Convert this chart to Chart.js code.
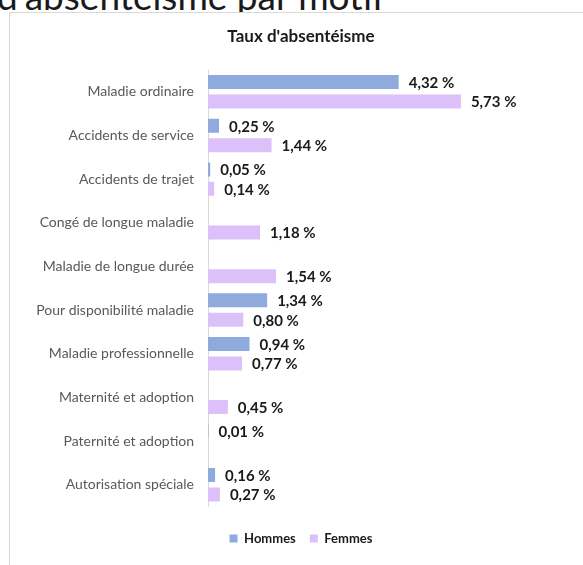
<!DOCTYPE html>
<html lang="fr">
<head>
<meta charset="utf-8">
<script src="https://cdn.jsdelivr.net/npm/chart.js@4"></script>
<style>
  html, body { margin: 0; padding: 0; background: #fff; overflow: hidden; }
  body { width: 583px; height: 565px; position: relative; font-family: Lato, sans-serif; }
  .heading { position: absolute; left: -3px; top: -23px; font-size: 37px; line-height: 37px; color: #1a1a1a; white-space: nowrap; }
  .frame { position: absolute; left: 9px; top: 12px; width: 600px; height: 600px; border-left: 1px solid #d9d9d9; border-top: 1px solid #d9d9d9; background: #fff; }
  .wrap { position: absolute; left: 10px; top: 13px; width: 582px; height: 552px; }
</style>
</head>
<body>
<div class="heading">d'absentéisme par motif</div>
<div class="frame"></div>
<div class="wrap"><canvas id="absChart"></canvas></div>
<script>
const motifs = [
  'Maladie ordinaire',
  'Accidents de service',
  'Accidents de trajet',
  'Congé de longue maladie',
  'Maladie de longue durée',
  'Pour disponibilité maladie',
  'Maladie professionnelle',
  'Maternité et adoption',
  'Paternité et adoption',
  'Autorisation spéciale'
];
const hommes = [4.32, 0.25, 0.05, null, null, 1.34, 0.94, null, 0.01, 0.16];
const femmes = [5.73, 1.44, 0.14, 1.18, 1.54, 0.80, 0.77, 0.45, null, 0.27];

function fmt(v) {
  return v.toFixed(2).replace('.', ',') + ' %';
}

// draws the value next to each bar end
const valueLabels = {
  id: 'valueLabels',
  afterDatasetsDraw(chart) {
    const ctx = chart.ctx;
    ctx.save();
    ctx.font = 'bold 15px Lato';
    ctx.fillStyle = '#1a1a1a';
    ctx.textAlign = 'left';
    ctx.textBaseline = 'middle';
    chart.data.datasets.forEach((ds, i) => {
      const meta = chart.getDatasetMeta(i);
      meta.data.forEach((bar, j) => {
        const v = ds.data[j];
        if (v === null || v === undefined) return;
        ctx.fillText(fmt(v), bar.x + 10, bar.y + 1);
      });
    });
    ctx.restore();
  }
};

new Chart(document.getElementById('absChart'), {
  type: 'bar',
  data: {
    labels: motifs,
    datasets: [
      {
        label: 'Hommes',
        data: hommes,
        backgroundColor: '#8faadc',
        categoryPercentage: 0.89,
        barPercentage: 0.72
      },
      {
        label: 'Femmes',
        data: femmes,
        backgroundColor: '#dcc0fa',
        categoryPercentage: 0.89,
        barPercentage: 0.72
      }
    ]
  },
  options: {
    indexAxis: 'y',
    responsive: true,
    maintainAspectRatio: false,
    animation: false,
    layout: {
      padding: { left: 0, right: 0, top: 0, bottom: 10 }
    },
    scales: {
      x: {
        display: true,
        min: 0,
        max: 8.7,
        ticks: { display: false },
        grid: { display: false },
        border: { display: false },
        afterFit(scale) { scale.height = 11.5; }
      },
      y: {
        ticks: {
          color: '#595959',
          padding: 14,
          font: { family: 'Lato', size: 14 }
        },
        grid: { display: false, drawTicks: false },
        border: { display: true, color: '#d9d9d9', width: 1 },
        afterFit(scale) { scale.width = 198; }
      }
    },
    plugins: {
      title: {
        display: true,
        text: "Taux d'absentéisme",
        color: '#1a1a1a',
        font: { family: 'Lato', size: 17, weight: 'bold' },
        padding: { top: 13, bottom: 23.6 }
      },
      legend: {
        position: 'bottom',
        labels: {
          boxWidth: 8,
          boxHeight: 8,
          padding: 14,
          color: '#1a1a1a',
          font: { family: 'Lato', size: 13, weight: 'bold' }
        }
      },
      tooltip: { enabled: false }
    }
  },
  plugins: [valueLabels]
});
</script>
</body>
</html>
